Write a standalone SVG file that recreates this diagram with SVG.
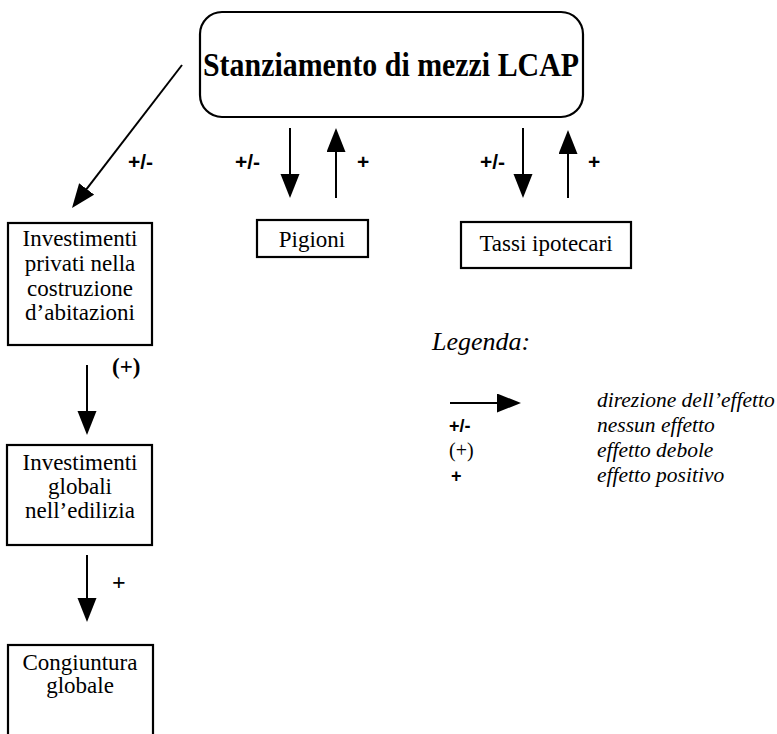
<svg xmlns="http://www.w3.org/2000/svg" width="777" height="734" viewBox="0 0 777 734">
<style>
.box{fill:#fff;stroke:#000;stroke-width:2.2}
.t{font-family:"Liberation Serif","Times New Roman",serif;font-size:23px;fill:#000;text-anchor:middle}
.title{font-family:"Liberation Serif","Times New Roman",serif;font-size:34px;font-weight:bold;fill:#000;text-anchor:middle}
.lab{font-family:"Liberation Sans",Arial,sans-serif;font-size:21px;font-weight:bold;fill:#000}
.labs{font-family:"Liberation Serif","Times New Roman",serif;font-size:23px;font-weight:bold;fill:#000}
.plus{font-family:"Liberation Serif","Times New Roman",serif;font-size:24px;font-weight:bold;fill:#000}
.it{font-family:"Liberation Serif","Times New Roman",serif;font-size:21.5px;font-style:italic;fill:#000}
.hd{font-family:"Liberation Serif","Times New Roman",serif;font-size:26px;font-style:italic;fill:#000}
.leg{font-family:"Liberation Sans",Arial,sans-serif;font-size:18px;font-weight:bold;fill:#000}
.legs{font-family:"Liberation Serif","Times New Roman",serif;font-size:20px;fill:#000}
.conn line{stroke:#000;stroke-width:2;marker-end:url(#ah)}
</style>
<defs>
<marker id="ah" markerUnits="userSpaceOnUse" markerWidth="26" markerHeight="20" refX="4" refY="9.5" orient="auto">
<path d="M0,0 L24,9.5 L0,19 Z" fill="#000"/>
</marker>
</defs>
<rect width="777" height="734" fill="#fff"/>
<g id="n-lcap">
<rect class="box" x="200" y="12" width="383" height="105" rx="22" ry="22"/>
<text class="title" x="391" y="76" textLength="376" lengthAdjust="spacingAndGlyphs">Stanziamento di mezzi LCAP</text>
</g>
<g id="n-invpriv">
<rect class="box" x="8" y="223" width="144" height="122"/>
<text class="t" x="80" y="246">Investimenti</text>
<text class="t" x="80" y="271">privati nella</text>
<text class="t" x="80" y="296">costruzione</text>
<text class="t" x="80" y="320">d’abitazioni</text>
</g>
<g id="n-pigioni">
<rect class="box" x="257" y="220" width="111" height="37"/>
<text class="t" x="312" y="247">Pigioni</text>
</g>
<g id="n-tassi">
<rect class="box" x="461" y="222" width="170" height="46"/>
<text class="t" x="546" y="251">Tassi ipotecari</text>
</g>
<g id="n-invglob">
<rect class="box" x="7" y="445" width="145" height="100"/>
<text class="t" x="80" y="470">Investimenti</text>
<text class="t" x="80" y="494">globali</text>
<text class="t" x="80" y="518">nell’edilizia</text>
</g>
<g id="n-cong">
<rect class="box" x="8" y="645" width="145" height="100"/>
<text class="t" x="80" y="670">Congiuntura</text>
<text class="t" x="80" y="693">globale</text>
</g>
<g id="connectors" class="conn">
<line x1="182" y1="65" x2="84.2" y2="192.1"/>
<line x1="290" y1="128" x2="290" y2="178"/>
<line x1="336" y1="198" x2="336" y2="148"/>
<line x1="523" y1="128" x2="523" y2="178"/>
<line x1="568" y1="198" x2="568" y2="150"/>
<line x1="87" y1="365" x2="87" y2="415"/>
<line x1="87" y1="555" x2="87" y2="602"/>
</g>
<g id="edge-labels">
<text class="lab" x="128" y="169">+/-</text>
<text class="lab" x="235" y="169">+/-</text>
<text class="lab" x="357" y="169">+</text>
<text class="lab" x="480" y="169">+/-</text>
<text class="lab" x="588" y="169">+</text>
<text class="labs" x="112" y="374">(+)</text>
<text class="plus" x="112" y="590">+</text>
</g>
<g id="legend">
<text class="hd" x="432" y="350">Legenda:</text>
<line x1="450" y1="403" x2="501" y2="403" stroke="#000" stroke-width="2" marker-end="url(#ah)"/>
<text class="it" x="597" y="407">direzione dell’effetto</text>
<text class="leg" x="449" y="432">+/-</text>
<text class="it" x="597" y="432">nessun effetto</text>
<text class="legs" x="449" y="457">(+)</text>
<text class="it" x="597" y="457">effetto debole</text>
<text class="leg" x="451" y="482">+</text>
<text class="it" x="597" y="482">effetto positivo</text>
</g>
</svg>
